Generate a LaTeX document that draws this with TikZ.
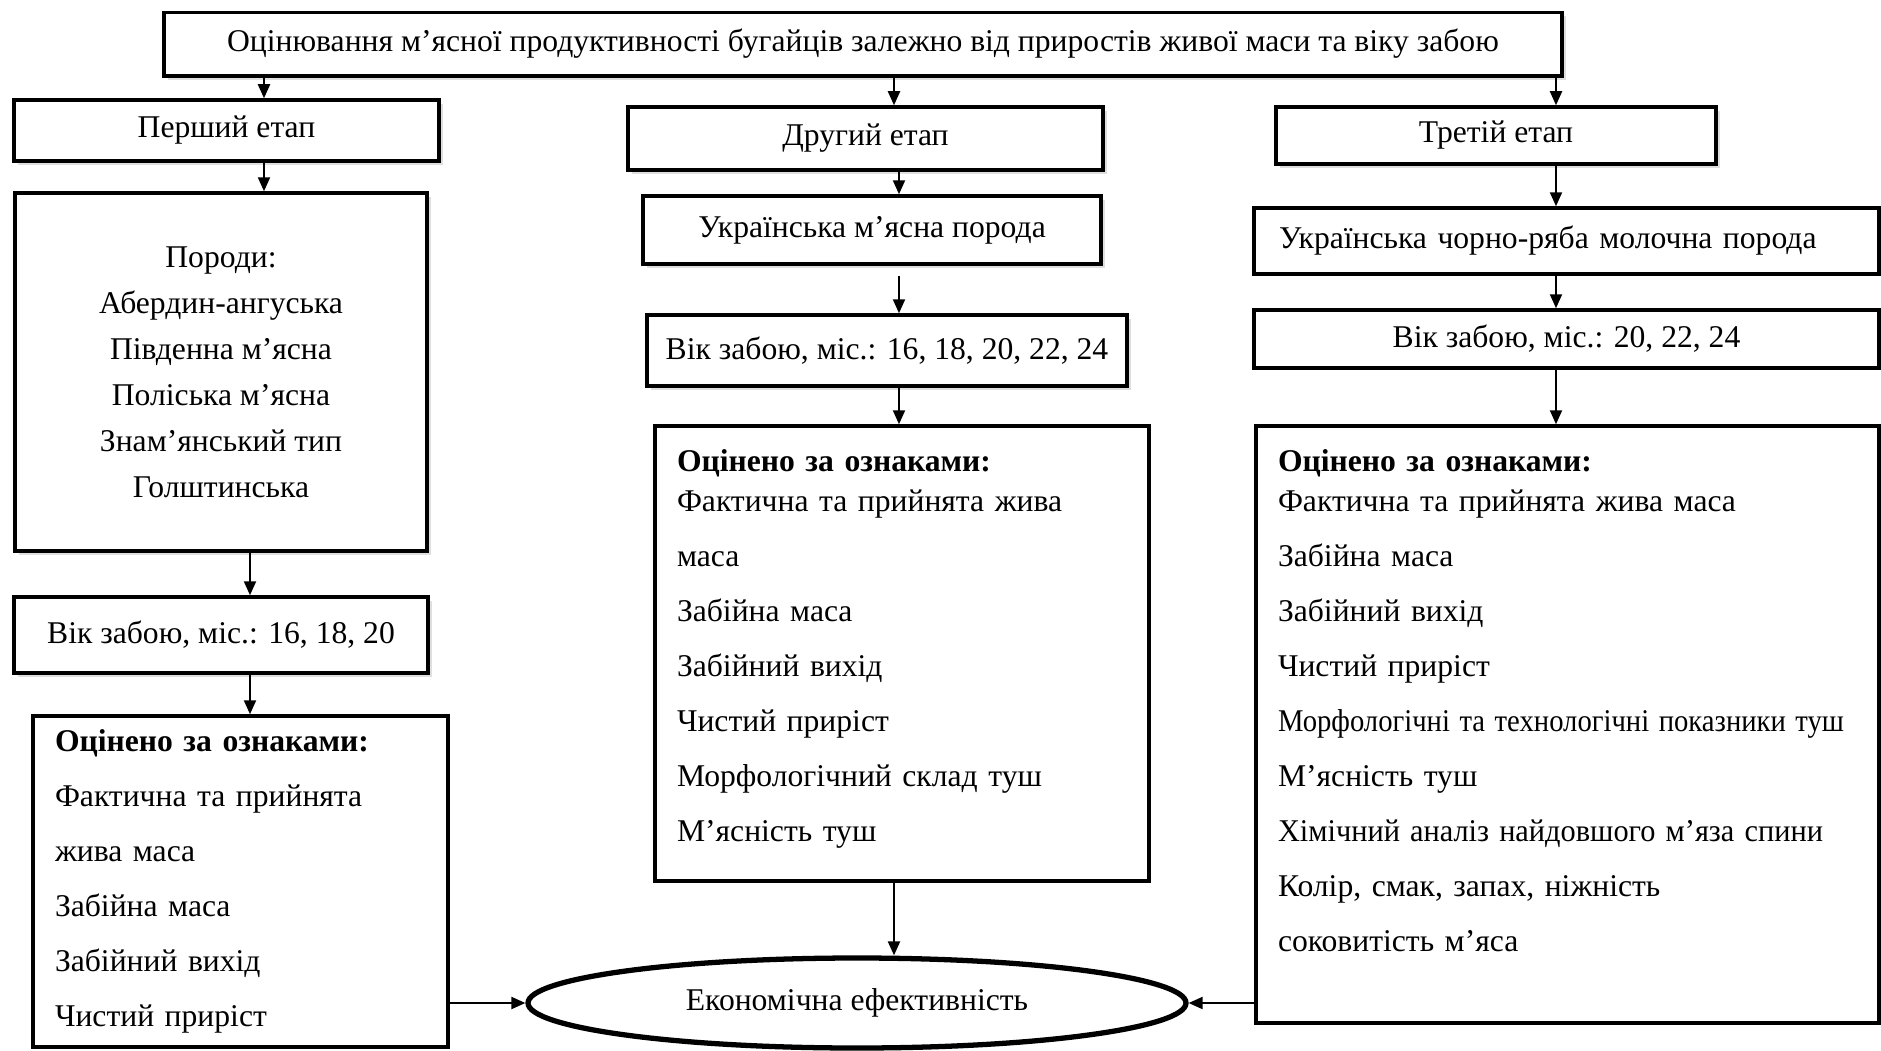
\documentclass[tikz,border=0pt]{standalone}
\usepackage{graphicx}
\usepackage{fontspec}
\setmainfont{Liberation Serif}
\usetikzlibrary{arrows.meta,shadows,shapes.geometric}

\begin{document}
\begin{tikzpicture}[
	box/.style={draw, line width=1pt, fill=white, inner sep=0pt, font=\fontsize{9}{15.65}\selectfont},
	shbox/.style={box, drop shadow={shadow xshift=1.2pt, shadow yshift=-1.2pt, opacity=0.25}},
	list/.style={box, align=left, inner xsep=0.22cm},
	arr/.style={-{Triangle[length=0.14cm,width=0.12cm]}, line width=0.6pt}
	]
	\useasboundingbox (0,0) rectangle (18.81,-10.50);

	\node[shbox, minimum width=13.98cm, minimum height=0.635cm] (top) at (8.63,-0.44) {Оцінювання м’ясної продуктивності бугайців залежно від приростів живої маси та віку забою};

	% First stage
	\node[shbox, minimum width=4.25cm, minimum height=0.61cm] (st1) at (2.265,-1.305) {Перший етап};
	\node[shbox, minimum width=4.12cm, minimum height=3.58cm, align=center, font=\fontsize{9}{13.1}\selectfont] (breeds) at (2.21,-3.72) {Породи:\\Абердин-ангуська\\Південна м’ясна\\Поліська м’ясна\\Знам’янський тип\\Голштинська};
	\node[shbox, minimum width=4.14cm, minimum height=0.76cm] (age1) at (2.21,-6.35) {Вік забою, міс.: 16, 18, 20};
	\node[list, text width=3.71cm, minimum height=3.31cm] (feat1) at (2.405,-8.815) {\textbf{Оцінено за ознаками:}\\Фактична та прийнята\\жива маса\\Забійна маса\\Забійний вихід\\Чистий приріст};

	% Second stage
	\node[shbox, minimum width=4.75cm, minimum height=0.63cm] (st2) at (8.655,-1.385) {Другий етап};
	\node[shbox, minimum width=4.58cm, minimum height=0.68cm] (breed2) at (8.72,-2.30) {Українська м’ясна порода};
	\node[shbox, minimum width=4.80cm, minimum height=0.71cm] (age2) at (8.87,-3.505) {Вік забою, міс.: 16, 18, 20, 22, 24};
	\node[list, text width=4.50cm, minimum height=4.55cm] (feat2) at (9.02,-6.535) {\textbf{Оцінено за ознаками:}\\[-4.3pt]Фактична та прийнята жива\\маса\\Забійна маса\\Забійний вихід\\Чистий приріст\\Морфологічний склад туш\\М’ясність туш\\[-11.35pt]\mbox{}};

	% Third stage
	\node[shbox, minimum width=4.40cm, minimum height=0.57cm] (st3) at (14.96,-1.355) {Третій етап};
	\node[box, minimum width=6.25cm, minimum height=0.66cm, text width=5.75cm, align=left, inner xsep=0.25cm] (breed3) at (15.665,-2.41) {Українська чорно-ряба молочна порода};
	\node[box, minimum width=6.25cm, minimum height=0.58cm] (age3) at (15.665,-3.39) {Вік забою, міс.: 20, 22, 24};
	\node[list, text width=5.79cm, minimum height=5.97cm] (feat3) at (15.675,-7.245) {\textbf{Оцінено за ознаками:}\\[-4.3pt]Фактична та прийнята жива маса\\Забійна маса\\Забійний вихід\\Чистий приріст\\\resizebox{5.66cm}{\height}{Морфологічні та технологічні показники туш}\\М’ясність туш\\\resizebox{5.45cm}{\height}{Хімічний аналіз найдовшого м’яза спини}\\Колір, смак, запах, ніжність\\соковитість м’яса\\[-2.25pt]\mbox{}};

	\node[ellipse, draw, line width=1.5pt, fill=white, inner sep=0pt, minimum width=6.58cm, minimum height=0.90cm, font=\fontsize{9}{15.65}\selectfont] (econ) at (8.57,-10.03) {Економічна ефективність};

	% arrow columns
	\coordinate (xa) at (2.64,0);
	\coordinate (xb) at (2.50,0);
	\coordinate (xm) at (8.94,0);
	\coordinate (xn) at (8.99,0);
	\coordinate (xr) at (15.56,0);

	\draw[arr] (xa |- top.south) -- (xa |- st1.north);
	\draw[arr] (xa |- st1.south) -- (xa |- breeds.north);
	\draw[arr] (xb |- breeds.south) -- (xb |- age1.north);
	\draw[arr] (xb |- age1.south) -- (xb |- feat1.north);

	\draw[arr] (xm |- top.south) -- (xm |- st2.north);
	\draw[arr] (xn |- st2.south) -- (xn |- breed2.north);
	\draw[arr, shorten <=0.1cm] (xn |- breed2.south) -- (xn |- age2.north);
	\draw[arr] (xn |- age2.south) -- (xn |- feat2.north);
	\draw[arr] (xm |- feat2.south) -- (xm |- econ.north);

	\draw[arr] (xr |- top.south) -- (xr |- st3.north);
	\draw[arr] (xr |- st3.south) -- (xr |- breed3.north);
	\draw[arr] (xr |- breed3.south) -- (xr |- age3.north);
	\draw[arr] (xr |- age3.south) -- (xr |- feat3.north);

	\draw[arr] (feat1.east |- econ) -- (econ.west); % to economics
	\draw[arr] (feat3.west |- econ) -- (econ.east);
\end{tikzpicture}
\end{document}
